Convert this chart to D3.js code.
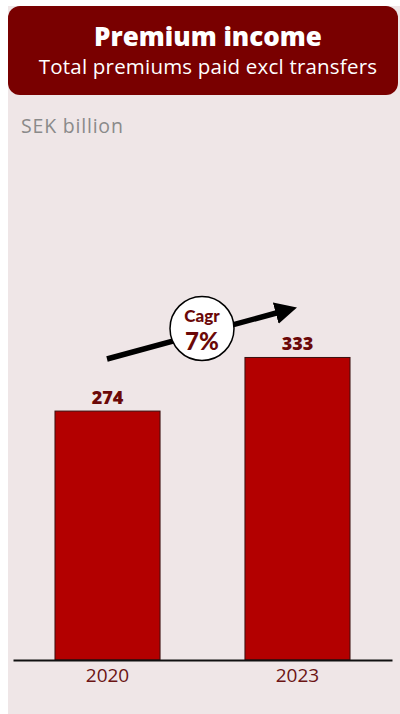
<!DOCTYPE html>
<html>
<head>
<meta charset="utf-8">
<script src="https://cdn.jsdelivr.net/npm/d3@7"></script>
<style>
  html, body { margin: 0; padding: 0; background: #ffffff; }
  svg { display: block; }
</style>
</head>
<body>
<div id="chart"></div>
<script>
// Premium income, SEK billion
const years = ["2020", "2023"];
const premiums = [274, 333];
const cagrLabel = ["Cagr", "7%"];
const titleText = "Premium income";
const subtitleText = "Total premiums paid excl transfers";
const unitText = "SEK billion";

const W = 400, H = 714;
const svg = d3.select("#chart").append("svg")
  .attr("width", W).attr("height", H);

// panel background
svg.append("rect")
  .attr("x", 8).attr("y", 6).attr("width", W - 8).attr("height", H - 6)
  .attr("fill", "#efe6e7");

// header block
svg.append("rect")
  .attr("x", 8).attr("y", 6).attr("width", W - 10).attr("height", 89)
  .attr("rx", 12).attr("ry", 12)
  .attr("fill", "#790000");

svg.append("text")
  .attr("x", 208).attr("y", 46)
  .attr("text-anchor", "middle")
  .attr("font-family", "'Open Sans', Lato, sans-serif")
  .attr("font-weight", 800)
  .attr("font-size", 26)
  .attr("fill", "#ffffff")
  .text(titleText);

svg.append("text")
  .attr("x", 208).attr("y", 74)
  .attr("text-anchor", "middle")
  .attr("font-family", "'Open Sans', Roboto, sans-serif")
  .attr("font-size", 20.5)
  .attr("letter-spacing", 0.2)
  .attr("fill", "#ffffff")
  .text(subtitleText);

svg.append("text")
  .attr("x", 21).attr("y", 133)
  .attr("font-family", "'Open Sans', Roboto, sans-serif")
  .attr("font-size", 19.5)
  .attr("letter-spacing", 0.8)
  .attr("fill", "#8a8a8a")
  .text(unitText);

// scales
const baseY = 660;
const x = d3.scaleBand()
  .domain(years)
  .range([13, 392])
  .paddingInner(0.447)
  .paddingOuter(0.221);

const y = d3.scaleLinear()
  .domain([0, 600])
  .range([baseY, baseY - 600 * 0.9085]);

// bars
svg.selectAll("rect.bar")
  .data(premiums)
  .join("rect")
  .attr("class", "bar")
  .attr("x", (d, i) => x(years[i]))
  .attr("y", d => y(d))
  .attr("width", x.bandwidth())
  .attr("height", d => baseY - y(d))
  .attr("fill", "#b30000")
  .attr("stroke", "#3a1010")
  .attr("stroke-width", 1);

// value labels
svg.selectAll("text.val")
  .data(premiums)
  .join("text")
  .attr("class", "val")
  .attr("x", (d, i) => x(years[i]) + x.bandwidth() / 2)
  .attr("y", d => y(d) - 7)
  .attr("text-anchor", "middle")
  .attr("font-family", "'Open Sans', Lato, sans-serif")
  .attr("font-weight", 800)
  .attr("font-size", 18)
  .attr("fill", "#6b0808")
  .text(d => d);

// x axis
const xAxis = d3.axisBottom(x).tickSize(0).tickPadding(9);
const gx = svg.append("g")
  .attr("transform", `translate(0,${baseY})`)
  .call(xAxis);
gx.select(".domain")
  .attr("stroke", "#111111")
  .attr("stroke-width", 2);
gx.selectAll("text")
  .attr("font-family", "'Open Sans', Lato, sans-serif")
  .attr("font-size", 19)
  .attr("fill", "#6b1414");

// growth arrow
const defs = svg.append("defs");
defs.append("marker")
  .attr("id", "head")
  .attr("viewBox", "0 0 10 10")
  .attr("refX", 2).attr("refY", 5)
  .attr("markerWidth", 4).attr("markerHeight", 4)
  .attr("markerUnits", "strokeWidth")
  .attr("orient", "auto")
  .append("path")
  .attr("d", "M0,0 L10,5 L0,10 Z")
  .attr("fill", "#000000");

const ax0 = [107, 359], ax1 = [280, 312];
svg.append("line")
  .attr("x1", ax0[0]).attr("y1", ax0[1])
  .attr("x2", ax1[0]).attr("y2", ax1[1])
  .attr("stroke", "#000000")
  .attr("stroke-width", 5.5)
  .attr("marker-end", "url(#head)");

// CAGR badge
const cx = 202, cy = 328.5;
svg.append("circle")
  .attr("cx", cx).attr("cy", cy).attr("r", 32)
  .attr("fill", "#ffffff")
  .attr("stroke", "#000000")
  .attr("stroke-width", 1.5);

const badgeFont = "Lato, 'Open Sans', sans-serif";
svg.append("text")
  .attr("x", cx).attr("y", cy - 6.5)
  .attr("text-anchor", "middle")
  .attr("font-family", badgeFont)
  .attr("font-weight", 900)
  .attr("font-size", 17)
  .attr("fill", "#6b0808")
  .text(cagrLabel[0]);
svg.append("text")
  .attr("x", cx).attr("y", cy + 21.5)
  .attr("text-anchor", "middle")
  .attr("font-family", badgeFont)
  .attr("font-weight", 900)
  .attr("font-size", 24)
  .attr("fill", "#6b0808")
  .text(cagrLabel[1]);
</script>
</body>
</html>
